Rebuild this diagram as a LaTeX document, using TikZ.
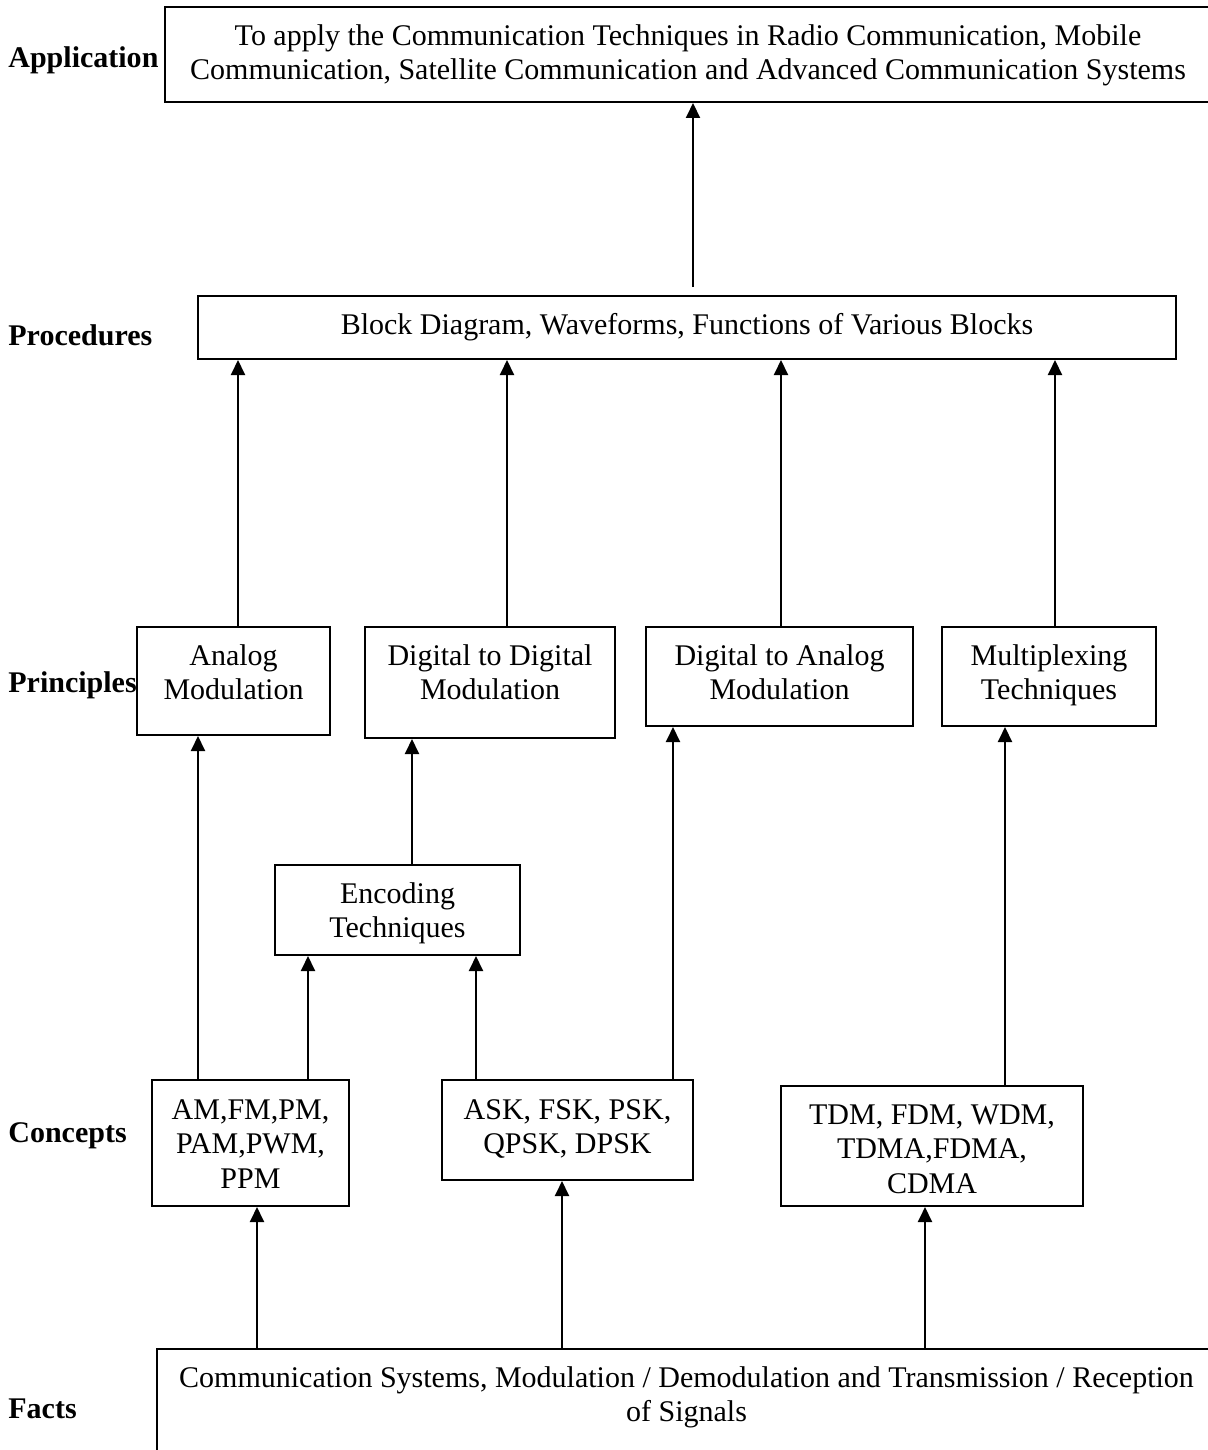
\documentclass[tikz,border=0pt]{standalone}
\usepackage{fontspec}
\setmainfont{Liberation Serif}
\usetikzlibrary{arrows.meta}
\newcommand\ms{\rule{0pt}{12pt}}
\newcommand\boxnode[5]{\node[box, minimum width={(#4-#2)*0.5pt}, minimum height={(#5-#3)*0.5pt}] (#1) at ({(#2+#4)/2},{(#3+#5)/2}) {};}
\begin{document}
\begin{tikzpicture}[x=0.5pt,y=-0.5pt,
  box/.style={draw, line width=1pt, rectangle, inner sep=0pt},
  txt/.style={font=\fontsize{15pt}{17.25pt}\selectfont, align=center, inner sep=0pt, anchor=north},
  lbl/.style={font=\fontsize{15pt}{17.25pt}\selectfont\bfseries, inner sep=0pt, anchor=base west},
  arr/.style={line width=1pt, -{Triangle[length=7.5pt,width=7pt]}}]
\useasboundingbox (0,0) rectangle (1208,1450);

% side labels
\node[lbl] (lapp)  at (8,68)   {Application};
\node[lbl] (lproc) at (8,345)  {Procedures};
\node[lbl] (lprin) at (8,692)  {Principles};
\node[lbl] (lcon)  at (8,1142) {Concepts};
\node[lbl] (lfac)  at (8,1418) {Facts};

% boxes
\boxnode{app}{165}{7}{1216}{102}
\boxnode{proc}{198}{296}{1176}{359}
\boxnode{an}{137}{627}{330}{735}
\boxnode{dd}{365}{627}{615}{738}
\boxnode{da}{646}{627}{913}{726}
\boxnode{mx}{942}{627}{1156}{726}
\boxnode{enc}{275}{865}{520}{955}
\boxnode{am}{152}{1080}{349}{1206}
\boxnode{ask}{442}{1080}{693}{1180}
\boxnode{tdm}{781}{1086}{1083}{1206}
\boxnode{facts}{157}{1349}{1216}{1470}

% box texts
\node[txt] (appt) at (688,21) {\ms To apply the Communication Techniques in Radio Communication, Mobile\\Communication, Satellite Communication and Advanced Communication Systems};
\node[txt] (proct) at (687,310) {\ms Block Diagram, Waveforms, Functions of Various Blocks};
\node[txt] (ant) at (233.5,641) {\ms Analog\\Modulation};
\node[txt] (ddt) at (490,641) {\ms Digital to Digital\\Modulation};
\node[txt] (dat) at (779.5,641) {\ms Digital to Analog\\Modulation};
\node[txt] (mxt) at (1049,641) {\ms Multiplexing\\Techniques};
\node[txt] (enct) at (397.5,879) {\ms Encoding\\Techniques};
\node[txt] (amt) at (250.5,1095) {\ms AM,FM,PM,\\PAM,PWM,\\PPM};
\node[txt] (askt) at (567.5,1095) {\ms ASK, FSK, PSK,\\QPSK, DPSK};
\node[txt] (tdmt) at (932,1100) {\ms TDM, FDM, WDM,\\TDMA,FDMA,\\CDMA};
\node[txt] (factst) at (686.5,1363) {\ms Communication Systems, Modulation / Demodulation and Transmission / Reception\\of Signals};

% connectors
\draw[arr, shorten <=4pt] (proc.north -| 693,0) -- (app.south -| 693,0);
\draw[arr] (an.north -| 238,0) -- (proc.south -| 238,0);
\draw[arr] (dd.north -| 507,0) -- (proc.south -| 507,0);
\draw[arr] (da.north -| 781,0) -- (proc.south -| 781,0);
\draw[arr] (mx.north -| 1055,0) -- (proc.south -| 1055,0);
\draw[arr] (am.north -| 198,0) -- (an.south -| 198,0);
\draw[arr] (am.north -| 308,0) -- (enc.south -| 308,0);
\draw[arr] (enc.north -| 412,0) -- (dd.south -| 412,0);
\draw[arr] (ask.north -| 476,0) -- (enc.south -| 476,0);
\draw[arr] (ask.north -| 673,0) -- (da.south -| 673,0);
\draw[arr] (tdm.north -| 1005,0) -- (mx.south -| 1005,0);
\draw[arr] (facts.north -| 257,0) -- (am.south -| 257,0);
\draw[arr] (facts.north -| 562,0) -- (ask.south -| 562,0);
\draw[arr] (facts.north -| 925,0) -- (tdm.south -| 925,0);
\end{tikzpicture}
\end{document}
